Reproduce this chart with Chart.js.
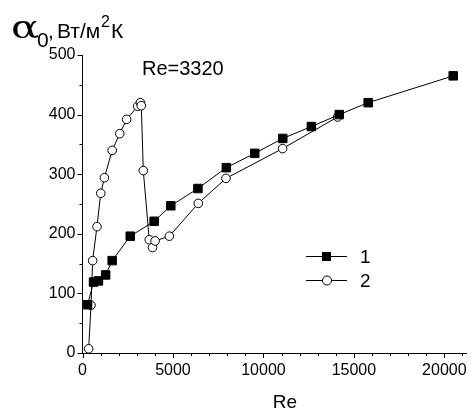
<!DOCTYPE html>
<html>
<head>
<meta charset="utf-8">
<script src="https://cdn.jsdelivr.net/npm/chart.js@4/dist/chart.umd.min.js"></script>
<style>
  html, body { margin: 0; padding: 0; background: #fff; }
  #wrap { width: 475px; height: 412px; }
</style>
</head>
<body>
<div id="wrap"><canvas id="chart" width="475" height="412"></canvas></div>
<script>
// series 1 (filled squares)
const re1 = [280, 610, 880, 1280, 1640, 2640, 3960, 4880, 6380, 7950, 9520, 11070, 12650, 14190, 15790, 20490];
const alpha1 = [81, 119, 121, 131, 155, 196, 221, 247, 276, 311, 335, 360, 380, 400, 420, 465];

// series 2 (open circles)
const re2 = [340, 470, 560, 800, 1010, 1210, 1640, 2060, 2440, 3050, 3200, 3250, 3360, 3690, 3870, 4010, 4800, 6400, 7930, 11060, 14100];
const alpha2 = [7, 80, 155, 212, 268, 294, 340, 368, 392, 414, 420, 415, 306, 190, 177, 188, 196, 251, 293, 343, 396];

// axis settings
const xMax = 21200;
const yMax = 500;
const xTicks = [0, 5000, 10000, 15000, 20000];
const yTicks = [0, 100, 200, 300, 400, 500];
const xMinor = 1000, yMinor = 50;

const seriesNames = ['1', '2'];
const note = 'Re=3320';

const FONT = '"Liberation Sans", Arial, sans-serif';

function toPoints(xs, ys) {
    return xs.map((x, i) => ({ x: x, y: ys[i] }));
}

// draws tick marks, axis titles, note and legend
const extras = {
    id: 'extras',
    afterDraw(chart) {
        const ctx = chart.ctx;
        const xs = chart.scales.x;
        const ys = chart.scales.y;
        const x0 = xs.getPixelForValue(0);
        const y0 = ys.getPixelForValue(0);

        ctx.save();
        ctx.strokeStyle = '#000';
        ctx.lineWidth = 1;
        ctx.beginPath();
        for (let v = 0; v <= xMax; v += xMinor) {
            const px = Math.round(xs.getPixelForValue(v)) + 0.5;
            const len = xTicks.includes(v) ? 5 : 3;
            ctx.moveTo(px, y0);
            ctx.lineTo(px, y0 + len);
        }
        for (let v = 0; v <= yMax; v += yMinor) {
            const py = Math.round(ys.getPixelForValue(v)) + 0.5;
            const len = yTicks.includes(v) ? 5 : 3;
            ctx.moveTo(x0, py);
            ctx.lineTo(x0 - len, py);
        }
        ctx.stroke();

        ctx.fillStyle = '#000';
        ctx.textBaseline = 'alphabetic';
        ctx.textAlign = 'left';

        // y title: alpha_0, Вт/м^2К
        ctx.save();
        ctx.translate(11, 38);
        ctx.scale(1.3, 1);
        ctx.font = '32px "DejaVu Serif", "Liberation Serif", serif';
        ctx.fillText('α', 0, 0);
        ctx.restore();
        ctx.font = '21px ' + FONT;
        ctx.fillText('0', 37, 47);
        ctx.fillText(',', 48, 38);
        ctx.fillText('Вт/м', 57, 38);
        ctx.font = '16px ' + FONT;
        ctx.fillText('2', 101, 27);
        ctx.font = '21px ' + FONT;
        ctx.fillText('К', 111, 38);

        // x title
        ctx.textAlign = 'center';
        ctx.font = '19px ' + FONT;
        ctx.fillText('Re', 285, 408);

        // note
        ctx.textAlign = 'left';
        ctx.font = '20px ' + FONT;
        ctx.fillText(note, 142, 75);

        // legend
        const rows = [256, 280];
        rows.forEach((ly, i) => {
            ctx.beginPath();
            ctx.moveTo(306, ly + 0.5);
            ctx.lineTo(347, ly + 0.5);
            ctx.stroke();
            if (i === 0) {
                ctx.fillRect(322, ly - 4, 9, 9);
            } else {
                ctx.beginPath();
                ctx.fillStyle = '#fff';
                ctx.arc(327, ly + 0.5, 4.5, 0, Math.PI * 2);
                ctx.fill();
                ctx.stroke();
                ctx.fillStyle = '#000';
            }
            ctx.font = '19px ' + FONT;
            ctx.fillText(seriesNames[i], 360, ly + 7);
        });
        ctx.restore();
    }
};

const ctx = document.getElementById('chart').getContext('2d');
new Chart(ctx, {
    type: 'scatter',
    data: {
        datasets: [{
            label: seriesNames[0],
            data: toPoints(re1, alpha1),
            showLine: true,
            borderColor: '#000',
            borderWidth: 1,
            backgroundColor: '#000',
            pointStyle: 'rect',
            pointRadius: 6,
            pointBorderWidth: 1,
            pointBorderColor: '#000',
            pointBackgroundColor: '#000'
        }, {
            label: seriesNames[1],
            data: toPoints(re2, alpha2),
            showLine: true,
            borderColor: '#000',
            borderWidth: 1,
            backgroundColor: '#fff',
            pointStyle: 'circle',
            pointRadius: 4.3,
            pointBorderWidth: 1,
            pointBorderColor: '#000',
            pointBackgroundColor: '#fff'
        }]
    },
    options: {
        responsive: false,
        animation: false,
        events: [],
        layout: { padding: { left: 0, top: 55, right: 1, bottom: 0 } },
        plugins: {
            legend: { display: false },
            tooltip: { enabled: false }
        },
        scales: {
            x: {
                type: 'linear',
                min: 0,
                max: xMax,
                afterFit(scale) { scale.height = 59; },
                afterBuildTicks(scale) { scale.ticks = xTicks.map(v => ({ value: v })); },
                grid: { display: false, drawTicks: false },
                border: { display: true, color: '#000', width: 1 },
                ticks: {
                    color: '#000',
                    padding: 8,
                    maxRotation: 0,
                    autoSkip: false,
                    callback: v => String(v),
                    font: { family: FONT, size: 16 }
                }
            },
            y: {
                type: 'linear',
                min: 0,
                max: yMax,
                afterFit(scale) { scale.width = 82.5; },
                afterBuildTicks(scale) { scale.ticks = yTicks.map(v => ({ value: v })); },
                grid: { display: false, drawTicks: false },
                border: { display: true, color: '#000', width: 1 },
                ticks: {
                    color: '#000',
                    padding: 7,
                    autoSkip: false,
                    callback: v => String(v),
                    font: { family: FONT, size: 16 }
                }
            }
        }
    },
    plugins: [extras]
});
</script>
</body>
</html>
